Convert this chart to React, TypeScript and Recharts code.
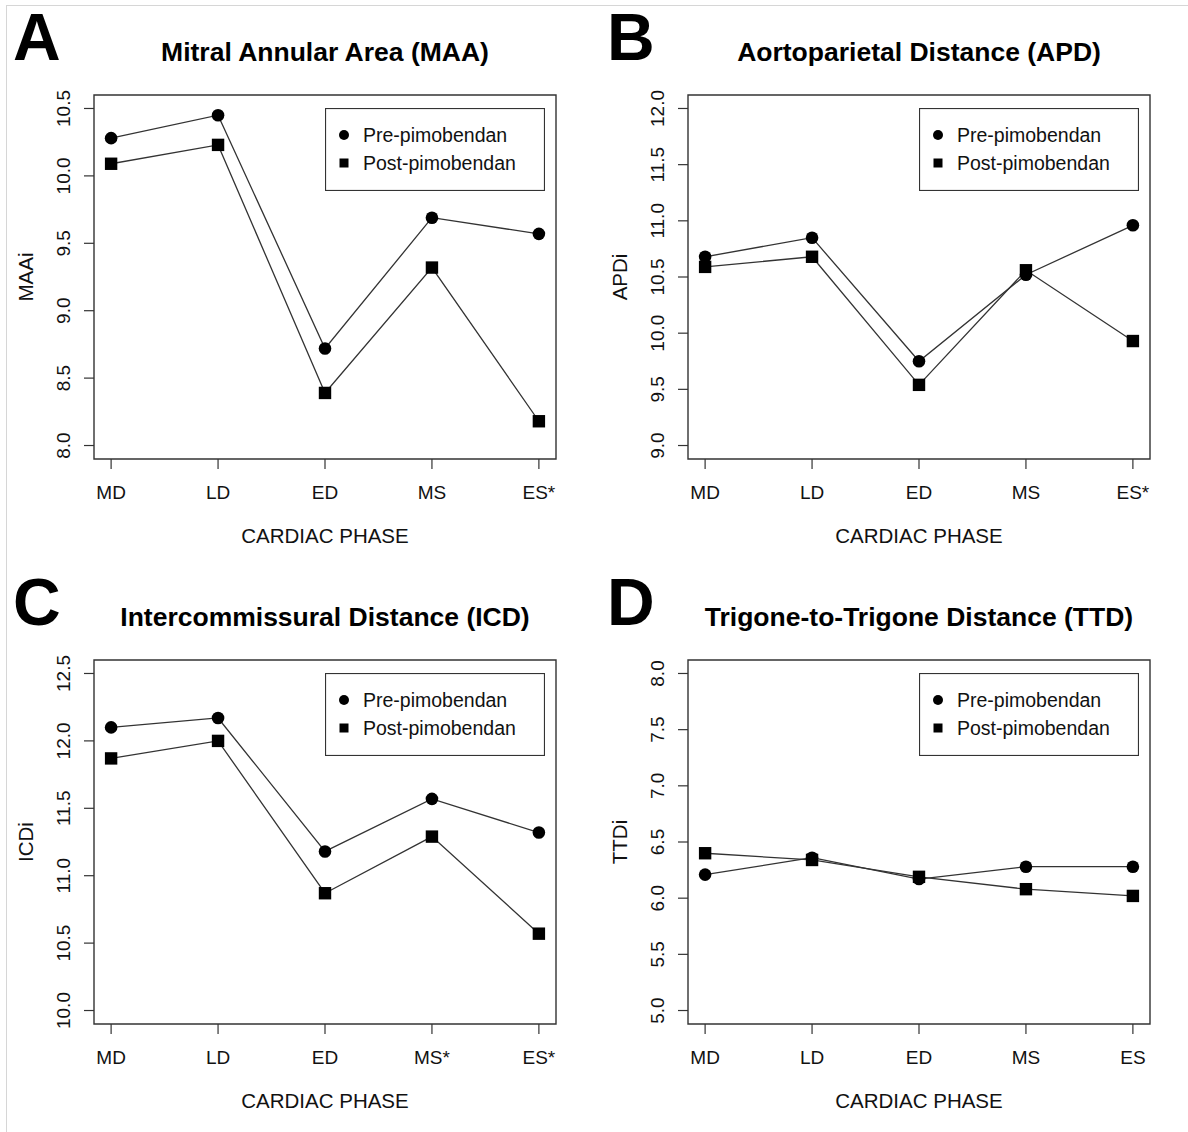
import React from 'react';
import { LineChart, Line, XAxis, YAxis, ReferenceArea, Legend } from 'recharts';

// cardiac phases on the x axis (positions 1..5)
const phasePos = [1, 2, 3, 4, 5];
const phasesA = ['MD', 'LD', 'ED', 'MS', 'ES*'];
const phasesB = ['MD', 'LD', 'ED', 'MS', 'ES*'];
const phasesC = ['MD', 'LD', 'ED', 'MS*', 'ES*'];
const phasesD = ['MD', 'LD', 'ED', 'MS', 'ES'];

// A - Mitral Annular Area
const maaPre = [10.28, 10.45, 8.72, 9.69, 9.57];
const maaPost = [10.09, 10.23, 8.39, 9.32, 8.18];
const maaTicks = [8.0, 8.5, 9.0, 9.5, 10.0, 10.5];

// B - Aortoparietal Distance
const apdPre = [10.68, 10.85, 9.75, 10.52, 10.96];
const apdPost = [10.59, 10.68, 9.54, 10.56, 9.93];
const apdTicks = [9.0, 9.5, 10.0, 10.5, 11.0, 11.5, 12.0];

// C - Intercommissural Distance
const icdPre = [12.1, 12.17, 11.18, 11.57, 11.32];
const icdPost = [11.87, 12.0, 10.87, 11.29, 10.57];
const icdTicks = [10.0, 10.5, 11.0, 11.5, 12.0, 12.5];

// D - Trigone-to-Trigone Distance
const ttdPre = [6.21, 6.36, 6.17, 6.28, 6.28];
const ttdPost = [6.4, 6.34, 6.19, 6.08, 6.02];
const ttdTicks = [5.0, 5.5, 6.0, 6.5, 7.0, 7.5, 8.0];

const seriesNames = ['Pre-pimobendan', 'Post-pimobendan'];

const FONT = '"Liberation Sans", Arial, Helvetica, sans-serif';
const INK = '#111';
const LINE = '#333';

const W = 594;
const H = 566;
const M = { top: 95, right: 38, left: 34, bottom: 47 };

const CircleDot = (p: any) => <circle key={`c${p.index}`} cx={p.cx} cy={p.cy} r={6.3} fill="#000" />;
const SquareDot = (p: any) => (
  <rect key={`s${p.index}`} x={p.cx - 6.2} y={p.cy - 6.2} width={12.4} height={12.4} fill="#000" />
);

const YTick = (props: any) => {
  const { x, y, payload } = props;
  const bx = x - 12;
  return (
    <text x={bx} y={y} transform={`rotate(-90 ${bx} ${y})`} textAnchor="middle" fontSize={19} fontFamily={FONT} fill={INK}>
      {Number(payload.value).toFixed(1)}
    </text>
  );
};

const makeXTick = (labels: string[]) => (props: any) => {
  const { x, y, payload } = props;
  return (
    <text x={x} y={y + 28} textAnchor="middle" fontSize={19} fontFamily={FONT} fill={INK}>
      {labels[payload.value - 1]}
    </text>
  );
};

const LegendBox = () => (
  <svg width={220} height={83} style={{ display: 'block' }}>
    <rect x={0.5} y={0.5} width={219} height={82} fill="#fff" stroke={LINE} strokeWidth={1.2} />
    <circle cx={19} cy={27} r={5} fill="#000" />
    <rect x={14.5} y={50.5} width={9} height={9} fill="#000" />
    <text x={38} y={34} fontSize={19.5} fontFamily={FONT} fill={INK}>{seriesNames[0]}</text>
    <text x={38} y={62} fontSize={19.5} fontFamily={FONT} fill={INK}>{seriesNames[1]}</text>
  </svg>
);

type PanelProps = {
  letter: string;
  title: string;
  yLabel: string;
  phases: string[];
  pre: number[];
  post: number[];
  ticks: number[];
  left: number;
  top: number;
};

const Panel = ({ letter, title, yLabel, phases, pre, post, ticks, left, top }: PanelProps) => {
  const lo = ticks[0];
  const hi = ticks[ticks.length - 1];
  const pad = (hi - lo) * 0.04;
  const domain: [number, number] = [lo - pad, hi + pad];
  const data = phasePos.map((x, i) => ({ x, pre: pre[i], post: post[i] }));
  const plotCx = M.left + 60 + (W - M.left - 60 - M.right) / 2;
  const plotCy = M.top + (H - M.top - M.bottom - 60) / 2;

  return (
    <div style={{ position: 'absolute', left, top, width: W, height: H }}>
      <LineChart width={W} height={H} data={data} margin={M}>
        <XAxis
          type="number"
          dataKey="x"
          domain={[0.84, 5.16]}
          ticks={phasePos}
          interval={0}
          axisLine={false}
          tickLine={{ stroke: LINE, strokeWidth: 1.2 }}
          tickSize={10}
          height={60}
          tick={makeXTick(phases)}
        />
        <YAxis
          type="number"
          domain={domain}
          ticks={ticks}
          interval={0}
          allowDataOverflow
          axisLine={false}
          tickLine={{ stroke: LINE, strokeWidth: 1.2 }}
          tickSize={10}
          width={60}
          tick={<YTick />}
        />
        <ReferenceArea
          x1={0.84}
          x2={5.16}
          y1={domain[0]}
          y2={domain[1]}
          fill="none"
          fillOpacity={0}
          stroke={LINE}
          strokeWidth={1.4}
          ifOverflow="visible"
        />
        <Legend
          layout="vertical"
          align="center"
          verticalAlign="middle"
          content={() => <LegendBox />}
          wrapperStyle={{ left: 325, top: 108, width: 220, height: 83 }}
        />
        <Line
          dataKey="pre"
          name={seriesNames[0]}
          stroke={LINE}
          strokeWidth={1.3}
          dot={CircleDot}
          activeDot={false}
          isAnimationActive={false}
        />
        <Line
          dataKey="post"
          name={seriesNames[1]}
          stroke={LINE}
          strokeWidth={1.3}
          dot={SquareDot}
          activeDot={false}
          isAnimationActive={false}
        />
      </LineChart>
      <svg width={W} height={H} style={{ position: 'absolute', left: 0, top: 0, pointerEvents: 'none' }}>
        <text x={13} y={60} fontSize={66} fontWeight="bold" fontFamily={FONT} fill="#000">{letter}</text>
        <text x={plotCx} y={61} textAnchor="middle" fontSize={26.5} fontWeight="bold" fontFamily={FONT} fill="#000">
          {title}
        </text>
        <text x={plotCx} y={543} textAnchor="middle" fontSize={20.5} fontFamily={FONT} fill={INK}>
          CARDIAC PHASE
        </text>
        <text
          x={33}
          y={plotCy}
          transform={`rotate(-90 33 ${plotCy})`}
          textAnchor="middle"
          fontSize={20.5}
          fontFamily={FONT}
          fill={INK}
        >
          {yLabel}
        </text>
      </svg>
    </div>
  );
};

export default function App() {
  return (
    <div style={{ position: 'relative', width: 1188, height: 1132, background: '#fff', overflow: 'hidden' }}>
      <style>{'body{margin:0;background:#fff}'}</style>
      <Panel letter="A" title="Mitral Annular Area (MAA)" yLabel="MAAi" phases={phasesA} pre={maaPre} post={maaPost} ticks={maaTicks} left={0} top={0} />
      <Panel letter="B" title="Aortoparietal Distance (APD)" yLabel="APDi" phases={phasesB} pre={apdPre} post={apdPost} ticks={apdTicks} left={594} top={0} />
      <Panel letter="C" title="Intercommissural Distance (ICD)" yLabel="ICDi" phases={phasesC} pre={icdPre} post={icdPost} ticks={icdTicks} left={0} top={565} />
      <Panel letter="D" title="Trigone-to-Trigone Distance (TTD)" yLabel="TTDi" phases={phasesD} pre={ttdPre} post={ttdPost} ticks={ttdTicks} left={594} top={565} />
      {/* thin frame lines along the top and left edge */}
      <div style={{ position: 'absolute', left: 6, top: 5, width: 1182, height: 1, background: '#d6d6d6' }} />
      <div style={{ position: 'absolute', left: 6, top: 5, width: 1, height: 1127, background: '#d6d6d6' }} />
    </div>
  );
}
